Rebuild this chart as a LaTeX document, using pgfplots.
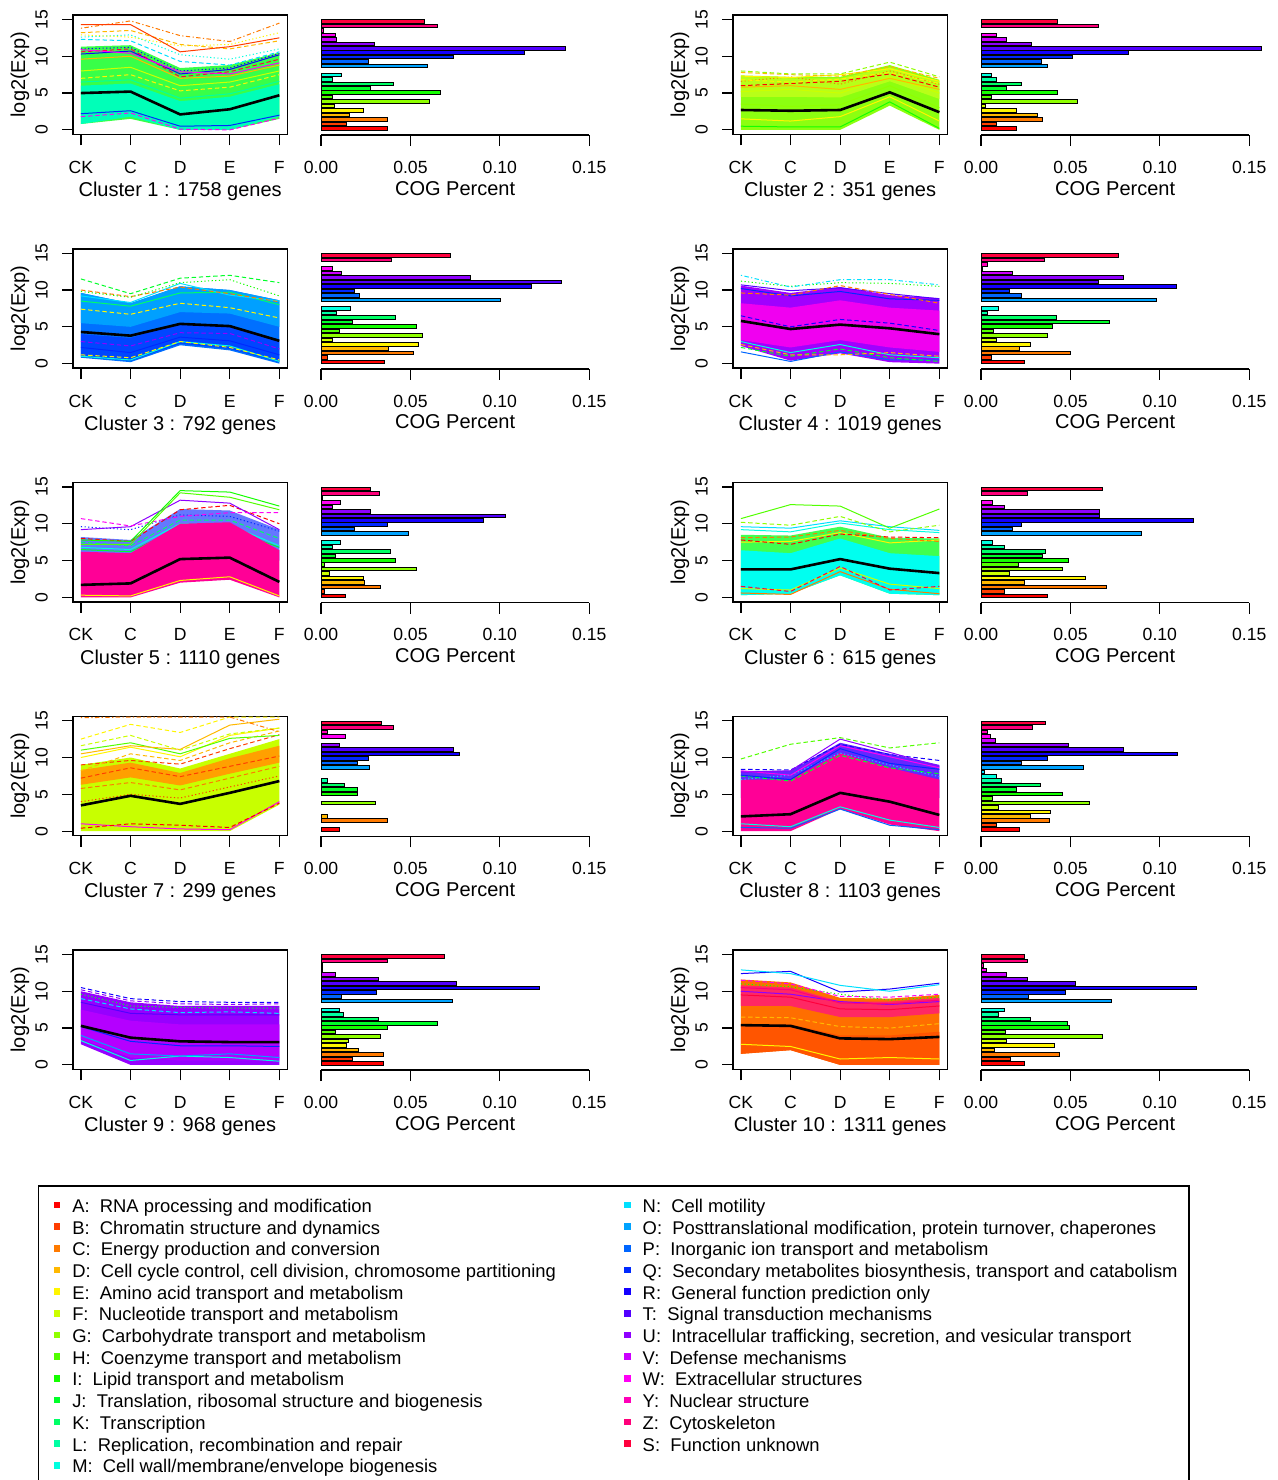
\documentclass[border=0pt]{standalone}
\usepackage{fontspec}
\setmainfont{Liberation Sans}
\usepackage{pgfplots}
\pgfplotsset{compat=1.18}
\usepackage{pgfplotstable}

\definecolor{cog0}{rgb}{1,0,0}
\definecolor{cog1}{rgb}{1,0.24,0}
\definecolor{cog2}{rgb}{1,0.48,0}
\definecolor{cog3}{rgb}{1,0.72,0}
\definecolor{cog4}{rgb}{1,0.96,0}
\definecolor{cog5}{rgb}{0.8,1,0}
\definecolor{cog6}{rgb}{0.56,1,0}
\definecolor{cog7}{rgb}{0.32,1,0}
\definecolor{cog8}{rgb}{0.08,1,0}
\definecolor{cog9}{rgb}{0,1,0.16}
\definecolor{cog10}{rgb}{0,1,0.4}
\definecolor{cog11}{rgb}{0,1,0.64}
\definecolor{cog12}{rgb}{0,1,0.88}
\definecolor{cog13}{rgb}{0,0.88,1}
\definecolor{cog14}{rgb}{0,0.64,1}
\definecolor{cog15}{rgb}{0,0.4,1}
\definecolor{cog16}{rgb}{0,0.16,1}
\definecolor{cog17}{rgb}{0.08,0,1}
\definecolor{cog18}{rgb}{0.32,0,1}
\definecolor{cog19}{rgb}{0.56,0,1}
\definecolor{cog20}{rgb}{0.8,0,1}
\definecolor{cog21}{rgb}{1,0,0.96}
\definecolor{cog22}{rgb}{1,0,0.72}
\definecolor{cog23}{rgb}{1,0,0.48}
\definecolor{cog24}{rgb}{1,0,0.24}

\definecolor{b1a}{HTML}{38FF48}
\definecolor{b1b}{HTML}{00FFB8}
\definecolor{b2a}{HTML}{8CFF10}
\definecolor{b2b}{HTML}{B8FF18}
\definecolor{b3a}{HTML}{0070FF}
\definecolor{b3b}{HTML}{00A0FF}
\definecolor{b3c}{HTML}{0046FF}
\definecolor{b4a}{HTML}{A000FF}
\definecolor{b4b}{HTML}{F000F0}
\definecolor{b5a}{HTML}{6478FF}
\definecolor{b5b}{HTML}{FF0096}
\definecolor{b6a}{HTML}{40FF50}
\definecolor{b6b}{HTML}{00FFF0}
\definecolor{b7a}{HTML}{C8FF00}
\definecolor{b7b}{HTML}{FFA000}
\definecolor{b8a}{HTML}{6428FF}
\definecolor{b8b}{HTML}{FF0096}
\definecolor{b9a}{HTML}{9600FF}
\definecolor{b9b}{HTML}{B400FF}
\definecolor{b10a}{HTML}{FF6E00}
\definecolor{b10b}{HTML}{FF5500}
\definecolor{b10c}{HTML}{FF2864}

% COG percent per cluster; k = 0 (A) ... 24 (S), order A..M N O P Q R T U V W Y Z S
\pgfplotstableread{
k c1 c2 c3 c4 c5 c6 c7 c8 c9 c10
0 0.0373 0.0199 0.0354 0.0244 0.0138 0.0373 0.0102 0.0218 0.0352 0.0242
1 0.0140 0.0084 0.0039 0.0058 0.0019 0.0129 0 0.0086 0.0175 0.0166
2 0.0373 0.0345 0.0518 0.0501 0.0333 0.0699 0.0371 0.0382 0.0352 0.0441
3 0.0158 0.0315 0.0380 0.0214 0.0244 0.0242 0.0035 0.0274 0.0209 0.0075
4 0.0235 0.0199 0.0544 0.0274 0.0235 0.0585 0 0.0389 0.0145 0.0413
5 0.0073 0.0026 0.0063 0.0088 0.0047 0.0162 0 0.0099 0.0156 0.0143
6 0.0607 0.0542 0.0570 0.0373 0.0535 0.0456 0.0304 0.0607 0.0332 0.0680
7 0.0063 0.0058 0.0102 0.0069 0.0019 0.0212 0 0.0063 0.0082 0.0138
8 0.0667 0.0427 0.0533 0.0402 0.0417 0.0488 0.0203 0.0455 0.0373 0.0495
9 0.0274 0.0143 0.0175 0.0717 0.0082 0.0343 0.0203 0.0197 0.0654 0.0486
10 0.0408 0.0227 0.0419 0.0423 0.0390 0.0360 0.0132 0.0335 0.0322 0.0274
11 0.0063 0.0084 0.0088 0.0035 0.0063 0.0129 0.0035 0.0117 0.0125 0.0099
12 0.0116 0.0058 0.0164 0.0099 0.0110 0.0063 0 0.0089 0.0104 0.0129
13 0 0 0 0 0 0 0 0.0017 0 0
14 0.0598 0.0371 0.1001 0.0982 0.0490 0.0896 0.0270 0.0574 0.0736 0.0730
15 0.0268 0.0341 0.0216 0.0225 0.0190 0.0177 0.0203 0.0227 0.0114 0.0268
16 0.0742 0.0512 0.0188 0.0158 0.0373 0.0227 0.0268 0.0373 0.0313 0.0473
17 0.1137 0.0827 0.1176 0.1092 0.0909 0.1189 0.0773 0.1100 0.1220 0.1205
18 0.1368 0.1569 0.1342 0.0658 0.1032 0.0665 0.0738 0.0797 0.0756 0.0529
19 0.0300 0.0285 0.0837 0.0797 0.0274 0.0665 0.0102 0.0490 0.0322 0.0259
20 0.0088 0.0143 0.0114 0.0177 0.0063 0.0129 0 0.0082 0.0082 0.0142
21 0.0080 0.0084 0.0063 0.0010 0.0110 0.0063 0.0136 0.0052 0.0010 0.0030
22 0.0013 0 0 0.0039 0.0010 0 0.0035 0.0034 0.0010 0.0013
23 0.0652 0.0656 0.0393 0.0354 0.0326 0.0259 0.0404 0.0289 0.0371 0.0259
24 0.0578 0.0427 0.0723 0.0768 0.0274 0.0682 0.0337 0.0363 0.0691 0.0242
}\cogtable

\newcommand\ticksize{\fontsize{8.8}{10}\selectfont}
\newcommand\labsize{\fontsize{10}{12}\selectfont}
\newcommand\legsize{\fontsize{9.2}{11}\selectfont}

\pgfplotsset{
  /pgf/number format/assume math mode=true,
  lw/.style={line width=0.5pt},
  dsh/.style={dash pattern=on 2.2pt off 1.4pt},
  dtt/.style={dash pattern=on 0.6pt off 1.2pt},
  ddt/.style={dash pattern=on 0.6pt off 1.2pt on 2.2pt off 1.2pt},
  band/.style={draw=none, fill=#1},
  mean/.style={black, line width=1.3pt},
  lp/.style={
    scale only axis, width=107.15pt, height=59.65pt, anchor=south west,
    xmin=-0.16, xmax=4.16, ymin=-0.6, ymax=15.6,
    xtick={0,1,2,3,4}, xticklabels={CK,C,D,E,F},
    ytick={0,5,10,15},
    tick align=outside, tick pos=left, major tick length=5.5pt,
    axis line style={line width=0.75pt},
    every tick/.style={black, line width=0.6pt},
    ticklabel style={font=\ticksize},
    xticklabel style={anchor=base, yshift=-14pt},
    yticklabel style={xshift=-7.2pt, rotate=90, anchor=base},
    ylabel={log2(Exp)},
    every axis x label/.style={at={(axis description cs:0.5,0)}, anchor=base, yshift=-31.2pt, font=\labsize},
    every axis y label/.style={at={(axis description cs:0,0.5)}, xshift=-26.5pt, rotate=90, anchor=center, font=\labsize},
  },
  bp/.style={
    scale only axis, width=134.15pt, height=60pt, anchor=south west,
    xmin=0, xmax=0.15, ymin=-1.51, ymax=25.5,
    axis x line*=bottom, axis y line=none, ytick=\empty,
    xtick={0,0.05,0.1,0.15}, xticklabels={0.00,0.05,0.10,0.15},
    tick align=outside, major tick length=5.5pt,
    axis line style={line width=0.75pt},
    every tick/.style={black, line width=0.6pt},
    ticklabel style={font=\ticksize},
    xticklabel style={anchor=base, yshift=-13.7pt},
    xlabel={COG Percent},
    every axis x label/.style={at={(axis description cs:0.5,0)}, anchor=base, yshift=-30pt, font=\labsize},
    clip=false,
  },
}

\newcommand\barpanel[3]{%
\begin{axis}[bp, at={(#1,#2)}]
\pgfplotsinvokeforeach{0,...,24}{%
\addplot[xbar, bar shift=0pt, bar width=0.8, fill=cog##1, draw=black, line width=0.5pt,
  y filter/.expression={y==##1 ? y : nan}, x filter/.expression={x==0 ? nan : x}]
  table[x=#3, y=k]{\cogtable};
}
\end{axis}}

\newcommand\lgl[1]{\makebox[275.5pt][l]{\rule[-3pt]{0pt}{12pt}#1}}
\newcommand\lgr[1]{\makebox[266pt][l]{\rule[-3pt]{0pt}{12pt}#1}}

\begin{document}
\begin{tikzpicture}
\useasboundingbox (0pt,0pt) rectangle (639pt,-740pt);

% ---------------- Cluster 1
\begin{axis}[lp, at={(36.5pt,-67.15pt)}, xlabel={Cluster 1 : 1758 genes}]
\addplot[band=b1a] coordinates {(0,0.8)(1,1.5)(2,0)(3,0)(4,1.5)(4,10.5)(3,8.8)(2,8.4)(1,11.5)(0,11.3)} -- cycle;
\addplot[band=b1b] coordinates {(0,0.8)(1,1.8)(2,0)(3,0)(4,1.8)(4,6.2)(3,4.5)(2,3.9)(1,6.3)(0,6.0)} -- cycle;
\addplot[lw,cog11] coordinates {(0,6.5)(1,6.8)(2,4.3)(3,4.9)(4,6.6)};
\addplot[lw,cog5] coordinates {(0,8)(1,8.5)(2,6)(3,6.5)(4,8)};
\addplot[lw,cog4,dsh] coordinates {(0,7)(1,7.5)(2,5.3)(3,5.8)(4,7.5)};
\addplot[lw,cog3] coordinates {(0,9.6)(1,10)(2,7)(3,7.3)(4,8.8)};
\addplot[lw,cog17] coordinates {(0,10.3)(1,10.7)(2,7.6)(3,8.2)(4,10.2)};
\addplot[lw,cog17,dtt] coordinates {(0,11)(1,11.2)(2,8)(3,8.4)(4,10.4)};
\addplot[lw,cog24,dsh] coordinates {(0,10.6)(1,11)(2,7.2)(3,7.9)(4,9.6)};
\addplot[lw,cog21] coordinates {(0,10.9)(1,10.4)(2,7.9)(3,7.6)(4,9.1)};
\addplot[lw,cog13,dsh] coordinates {(0,12.3)(1,12.1)(2,9.3)(3,8.8)(4,10.6)};
\addplot[lw,cog12,dtt] coordinates {(0,12.6)(1,12.9)(2,10.2)(3,9.6)(4,11)};
\addplot[lw,cog4,dtt] coordinates {(0,12.9)(1,12.6)(2,11.4)(3,11.6)(4,13.2)};
\addplot[lw,cog3,dsh] coordinates {(0,13.2)(1,13.5)(2,11.6)(3,11)(4,12.1)};
\addplot[lw,cog2,ddt] coordinates {(0,13.8)(1,14.8)(2,12.8)(3,12)(4,14.5)};
\addplot[lw,cog1] coordinates {(0,14.3)(1,14.3)(2,10.6)(3,11.3)(4,12.5)};
\addplot[lw,cog21,dsh] coordinates {(0,1.8)(1,2.3)(2,0.1)(3,0)(4,1.6)};
\addplot[lw,cog16] coordinates {(0,2.2)(1,2.6)(2,0.5)(3,0.6)(4,2)};
\addplot[mean] coordinates {(0,5.0)(1,5.2)(2,2.1)(3,2.8)(4,4.7)};
\end{axis}
\barpanel{160.5pt}{-67.5pt}{c1}

% ---------------- Cluster 2
\begin{axis}[lp, at={(366.5pt,-67.15pt)}, xlabel={Cluster 2 : 351 genes}]
\addplot[band=b2a] coordinates {(0,0)(1,0)(2,0)(3,3.3)(4,0)(4,6.8)(3,8.8)(2,7.2)(1,7.2)(0,7.4)} -- cycle;
\addplot[band=b2b] coordinates {(0,4.5)(1,4.5)(2,4.4)(3,6.6)(4,4.2)(4,6.6)(3,8.5)(2,7.0)(1,7.0)(0,7.2)} -- cycle;
\addplot[lw,cog6] coordinates {(0,3.5)(1,3.2)(2,3.4)(3,6)(4,3)};
\addplot[lw,cog8] coordinates {(0,0.5)(1,0.4)(2,0.4)(3,3.8)(4,0.2)};
\addplot[lw,cog4] coordinates {(0,1.5)(1,1.2)(2,1.8)(3,4.5)(4,1.2)};
\addplot[lw,cog5] coordinates {(0,5.2)(1,5.5)(2,5)(3,7.2)(4,5)};
\addplot[lw,cog3] coordinates {(0,5.8)(1,6)(2,5.5)(3,7)(4,5.5)};
\addplot[lw,cog0,dsh] coordinates {(0,6)(1,6.3)(2,6.6)(3,7.6)(4,5.8)};
\addplot[lw,cog2,dtt] coordinates {(0,6.6)(1,7.2)(2,6.2)(3,8)(4,6.2)};
\addplot[lw,cog4,dsh] coordinates {(0,6.8)(1,6.5)(2,6.9)(3,7.8)(4,6.3)};
\addplot[lw,cog4] coordinates {(0,7.3)(1,7.1)(2,7.5)(3,8.3)(4,6.6)};
\addplot[lw,cog3,dsh] coordinates {(0,7.8)(1,7.5)(2,7.3)(3,8.6)(4,7)};
\addplot[lw,cog6,dsh] coordinates {(0,8)(1,7.6)(2,7.6)(3,9.2)(4,7.2)};
\addplot[mean] coordinates {(0,2.7)(1,2.6)(2,2.7)(3,5.1)(4,2.4)};
\end{axis}
\barpanel{490.5pt}{-67.5pt}{c2}

% ---------------- Cluster 3
\begin{axis}[lp, at={(36.5pt,-184.025pt)}, xlabel={Cluster 3 : 792 genes}]
\addplot[band=b3a] coordinates {(0,0.8)(1,0.2)(2,2.5)(3,1.8)(4,0)(4,8.6)(3,10)(2,10.5)(1,8.2)(0,9.6)} -- cycle;
\addplot[band=b3b] coordinates {(0,5.5)(1,5)(2,7)(3,6.8)(4,5)(4,8.6)(3,10)(2,10.5)(1,8.2)(0,9.6)} -- cycle;
\addplot[band=b3c] coordinates {(0,1)(1,0.4)(2,2.7)(3,2)(4,0.2)(4,3)(3,5)(2,5.5)(1,3.5)(0,4)} -- cycle;
\addplot[lw,cog16] coordinates {(0,2.2)(1,1.5)(2,3.6)(3,3.1)(4,1.2)};
\addplot[lw,cog19,dsh] coordinates {(0,3)(1,2.4)(2,4.2)(3,4.1)(4,2)};
\addplot[lw,cog12] coordinates {(0,1)(1,0.5)(2,3)(3,2.4)(4,0.3)};
\addplot[lw,cog4,dsh] coordinates {(0,1.2)(1,0.8)(2,3)(3,2.2)(4,0.5)};
\addplot[lw,cog4,dsh] coordinates {(0,7.4)(1,6.7)(2,8.2)(3,7.6)(4,6.2)};
\addplot[lw,cog10] coordinates {(0,8.5)(1,7.8)(2,9.6)(3,9.7)(4,8)};
\addplot[lw,cog13] coordinates {(0,9.2)(1,8.3)(2,10.9)(3,9.3)(4,8.5)};
\addplot[lw,cog2,dsh] coordinates {(0,10)(1,9.1)(2,10.4)(3,9.5)(4,8.4)};
\addplot[lw,cog8,dtt] coordinates {(0,9.8)(1,9)(2,11)(3,11.4)(4,9.2)};
\addplot[lw,cog9,dsh] coordinates {(0,11.5)(1,9.5)(2,11.6)(3,12)(4,11)};
\addplot[mean] coordinates {(0,4.3)(1,3.8)(2,5.4)(3,5.1)(4,3.1)};
\end{axis}
\barpanel{160.5pt}{-184.375pt}{c3}

% ---------------- Cluster 4
\begin{axis}[lp, at={(366.5pt,-184.025pt)}, xlabel={Cluster 4 : 1019 genes}]
\addplot[band=b4a] coordinates {(0,2.4)(1,0.4)(2,1.4)(3,0.2)(4,0)(4,8.9)(3,9.3)(2,10.4)(1,9.6)(0,10.6)} -- cycle;
\addplot[band=b4b] coordinates {(0,3.2)(1,2.2)(2,3.2)(3,2.2)(4,1.6)(4,7.2)(3,7.6)(2,8.6)(1,7.6)(0,8.2)} -- cycle;
\addplot[lw,cog17,dsh] coordinates {(0,6.5)(1,5)(2,6)(3,5.5)(4,4.5)};
\addplot[lw,cog15] coordinates {(0,1.6)(1,0.3)(2,1.6)(3,0.5)(4,0.5)};
\addplot[lw,cog9,dsh] coordinates {(0,2.2)(1,1)(2,2)(3,0.8)(4,0.3)};
\addplot[lw,cog12] coordinates {(0,3)(1,1.5)(2,2.6)(3,1.2)(4,0.8)};
\addplot[lw,cog3,dsh] coordinates {(0,2.6)(1,1.2)(2,1.2)(3,1.5)(4,1)};
\addplot[lw,cog16] coordinates {(0,10.2)(1,9.2)(2,9.8)(3,8.8)(4,8.6)};
\addplot[lw,cog18] coordinates {(0,10.7)(1,9.9)(2,10.3)(3,9.5)(4,8.8)};
\addplot[lw,cog2,dsh] coordinates {(0,9.6)(1,9.3)(2,10.6)(3,9.4)(4,8.2)};
\addplot[lw,cog8,dtt] coordinates {(0,11.2)(1,10.5)(2,11)(3,10.9)(4,10.5)};
\addplot[lw,cog13,ddt] coordinates {(0,12)(1,10.4)(2,11.4)(3,11.4)(4,10.7)};
\addplot[mean] coordinates {(0,5.8)(1,4.7)(2,5.3)(3,4.8)(4,4.0)};
\end{axis}
\barpanel{490.5pt}{-184.375pt}{c4}

% ---------------- Cluster 5
\begin{axis}[lp, at={(36.5pt,-300.9pt)}, xlabel={Cluster 5 : 1110 genes}]
\addplot[band=b5a] coordinates {(0,5)(1,5)(2,8.5)(3,8.5)(4,5)(4,9.2)(3,11.8)(2,12)(1,7.8)(0,8.2)} -- cycle;
\addplot[lw,cog9] coordinates {(0,6.5)(1,6.2)(2,9.5)(3,9.2)(4,6.8)};
\addplot[lw,cog12] coordinates {(0,6.8)(1,6.5)(2,10)(3,9.8)(4,7)};
\addplot[lw,cog10,dsh] coordinates {(0,7.5)(1,7)(2,10.5)(3,10.5)(4,8)};
\addplot[band=b5b] coordinates {(0,0)(1,0)(2,2)(3,2.4)(4,0)(4,6.4)(3,10.2)(2,10)(1,6)(0,6.2)} -- cycle;
\addplot[lw,cog4] coordinates {(0,0.3)(1,0.2)(2,2.3)(3,2.8)(4,0.2)};
\addplot[lw,cog0,dsh] coordinates {(0,8)(1,7.6)(2,11.9)(3,12.5)(4,10)};
\addplot[lw,cog16,dtt] coordinates {(0,9.6)(1,9.2)(2,11.2)(3,11)(4,9)};
\addplot[lw,cog19] coordinates {(0,9.2)(1,9.6)(2,13.2)(3,12.8)(4,9.2)};
\addplot[lw,cog21,dsh] coordinates {(0,10.7)(1,9.7)(2,11)(3,11.5)(4,11.5)};
\addplot[lw,cog7] coordinates {(0,7.2)(1,7.2)(2,14.2)(3,13.6)(4,11.9)};
\addplot[lw,cog8] coordinates {(0,7.8)(1,7.6)(2,14.5)(3,14.3)(4,12.4)};
\addplot[mean] coordinates {(0,1.7)(1,1.9)(2,5.2)(3,5.4)(4,2.1)};
\end{axis}
\barpanel{160.5pt}{-301.25pt}{c5}

% ---------------- Cluster 6
\begin{axis}[lp, at={(366.5pt,-300.9pt)}, xlabel={Cluster 6 : 615 genes}]
\addplot[band=b6a] coordinates {(0,0.3)(1,0.5)(2,3)(3,0.5)(4,0.3)(4,8)(3,8.1)(2,9.6)(1,8.4)(0,8.5)} -- cycle;
\addplot[band=b6b] coordinates {(0,0.3)(1,0.5)(2,3)(3,0.5)(4,0.3)(4,5.6)(3,6)(2,8)(1,6)(0,6.4)} -- cycle;
\addplot[lw,cog2] coordinates {(0,0.6)(1,0.4)(2,3.5)(3,1.1)(4,0.5)};
\addplot[lw,cog5] coordinates {(0,1.2)(1,1)(2,4)(3,1.8)(4,1.2)};
\addplot[lw,cog24,dsh] coordinates {(0,1.5)(1,0.8)(2,4.2)(3,1)(4,1.5)};
\addplot[lw,cog4] coordinates {(0,7.5)(1,7.6)(2,8.8)(3,7.4)(4,7.8)};
\addplot[lw,cog0,dsh] coordinates {(0,7.8)(1,7.2)(2,8.6)(3,8.2)(4,8.1)};
\addplot[lw,cog2,dsh] coordinates {(0,8.1)(1,8.2)(2,9.1)(3,8)(4,7.6)};
\addplot[lw,cog12] coordinates {(0,9.2)(1,8.9)(2,10.1)(3,9.2)(4,8.8)};
\addplot[lw,cog13] coordinates {(0,9.6)(1,9.4)(2,10.4)(3,9.6)(4,9.1)};
\addplot[lw,cog6,dsh] coordinates {(0,10.2)(1,9.8)(2,11)(3,8.9)(4,9.8)};
\addplot[lw,cog7] coordinates {(0,10.7)(1,12.6)(2,12.4)(3,9.4)(4,12)};
\addplot[mean] coordinates {(0,3.8)(1,3.8)(2,5.2)(3,3.9)(4,3.3)};
\end{axis}
\barpanel{490.5pt}{-301.25pt}{c6}

% ---------------- Cluster 7
\begin{axis}[lp, at={(36.5pt,-417.775pt)}, xlabel={Cluster 7 : 299 genes}]
\addplot[band=b7a] coordinates {(0,0)(1,0)(2,0)(3,0)(4,3.6)(4,12.5)(3,10.5)(2,8.5)(1,10)(0,9)} -- cycle;
\addplot[band=b7b] coordinates {(0,6.3)(1,7.3)(2,6.2)(3,7.8)(4,9.3)(4,11.6)(3,9.9)(2,7.9)(1,9.3)(0,8.3)} -- cycle;
\addplot[lw,cog2,dsh] coordinates {(0,5.8)(1,6.6)(2,5.6)(3,7.2)(4,8.8)};
\addplot[lw,cog1,dsh] coordinates {(0,7.2)(1,8.6)(2,7.4)(3,8.8)(4,10.2)};
\addplot[lw,cog21] coordinates {(0,1)(1,0.6)(2,0.3)(3,0.2)(4,4)};
\addplot[lw,cog0,dsh] coordinates {(0,0.4)(1,1)(2,0.8)(3,0.5)(4,3.8)};
\addplot[lw,cog1,dtt] coordinates {(0,4)(1,5)(2,4.5)(3,6)(4,7.5)};
\addplot[lw,cog1,dsh] coordinates {(0,9)(1,9.6)(2,9.1)(3,11.2)(4,13.1)};
\addplot[lw,cog3,dsh] coordinates {(0,8.2)(1,10.5)(2,9.6)(3,12)(4,13.6)};
\addplot[lw,cog4] coordinates {(0,10)(1,11.4)(2,10.1)(3,13)(4,14)};
\addplot[lw,cog7] coordinates {(0,11)(1,12)(2,10.5)(3,12.6)(4,13)};
\addplot[lw,cog3] coordinates {(0,10.5)(1,11.6)(2,11.1)(3,14.4)(4,15.2)};
\addplot[lw,cog5,dsh] coordinates {(0,11.6)(1,13)(2,11)(3,13.2)(4,14)};
\addplot[lw,cog4,dsh] coordinates {(0,12.5)(1,14.5)(2,13.4)(3,15.5)(4,15.5)};
\addplot[lw,cog2,ddt] coordinates {(0,15.4)(1,15.5)(2,15.5)(3,15.5)(4,13.5)};
\addplot[mean] coordinates {(0,3.5)(1,4.8)(2,3.7)(3,5.2)(4,6.8)};
\end{axis}
\barpanel{160.5pt}{-418.125pt}{c7}

% ---------------- Cluster 8
\begin{axis}[lp, at={(366.5pt,-417.775pt)}, xlabel={Cluster 8 : 1103 genes}]
\addplot[band=b8a] coordinates {(0,4.5)(1,5)(2,8)(3,6)(4,4.5)(4,9)(3,10.5)(2,12)(1,8.2)(0,8.2)} -- cycle;
\addplot[band=b8b] coordinates {(0,0)(1,0)(2,3)(3,0.9)(4,0)(4,7)(3,8.6)(2,10.6)(1,7)(0,7)} -- cycle;
\addplot[lw,cog15] coordinates {(0,0.5)(1,0.4)(2,3)(3,0.8)(4,0.2)};
\addplot[lw,cog12] coordinates {(0,1)(1,0.6)(2,3.3)(3,1.5)(4,0.5)};
\addplot[lw,cog9,dsh] coordinates {(0,7.5)(1,6.8)(2,10.3)(3,8.6)(4,7.8)};
\addplot[lw,cog13,dtt] coordinates {(0,7)(1,7.6)(2,10.6)(3,9)(4,7.4)};
\addplot[lw,cog16] coordinates {(0,7.6)(1,7)(2,11.2)(3,9.2)(4,8.4)};
\addplot[lw,cog21] coordinates {(0,8.2)(1,7.6)(2,11.6)(3,10.1)(4,8.6)};
\addplot[lw,cog17,dsh] coordinates {(0,8.4)(1,8.3)(2,11.8)(3,10.4)(4,9.6)};
\addplot[lw,cog19] coordinates {(0,8)(1,8.2)(2,12.5)(3,10.7)(4,8.8)};
\addplot[lw,cog7,dsh] coordinates {(0,9.8)(1,11.8)(2,12.7)(3,11.3)(4,12)};
\addplot[mean] coordinates {(0,2.0)(1,2.3)(2,5.2)(3,4.0)(4,2.2)};
\end{axis}
\barpanel{490.5pt}{-418.125pt}{c8}

% ---------------- Cluster 9
\begin{axis}[lp, at={(36.5pt,-534.65pt)}, xlabel={Cluster 9 : 968 genes}]
\addplot[band=b9a] coordinates {(0,2.8)(1,0)(2,0)(3,0)(4,0)(4,8)(3,8)(2,8)(1,8.5)(0,10)} -- cycle;
\addplot[band=b9b] coordinates {(0,3.5)(1,1)(2,0.6)(3,0.6)(4,0.6)(4,5.5)(3,5.5)(2,5.5)(1,6)(0,7.5)} -- cycle;
\addplot[lw,cog12] coordinates {(0,3.3)(1,0.6)(2,1.2)(3,1)(4,0.5)};
\addplot[lw,cog14] coordinates {(0,4)(1,1.5)(2,1.2)(3,1.5)(4,1)};
\addplot[lw,cog16] coordinates {(0,5.2)(1,3.2)(2,2.6)(3,2.6)(4,2.5)};
\addplot[lw,cog18] coordinates {(0,8.5)(1,7)(2,6.8)(3,6.8)(4,6.8)};
\addplot[lw,cog13,dsh] coordinates {(0,9)(1,7.6)(2,7.1)(3,7.2)(4,7)};
\addplot[lw,cog9,dtt] coordinates {(0,9.6)(1,8)(2,7.8)(3,7.7)(4,7.7)};
\addplot[lw,cog19,dsh] coordinates {(0,10.2)(1,8.7)(2,8.3)(3,8.2)(4,8.3)};
\addplot[lw,cog17,dsh] coordinates {(0,10.5)(1,9)(2,8.6)(3,8.5)(4,8.5)};
\addplot[mean] coordinates {(0,5.3)(1,3.7)(2,3.2)(3,3.1)(4,3.1)};
\end{axis}
\barpanel{160.5pt}{-535pt}{c9}

% ---------------- Cluster 10
\begin{axis}[lp, at={(366.5pt,-534.65pt)}, xlabel={Cluster 10 : 1311 genes}]
\addplot[band=b10a] coordinates {(0,1.5)(1,2)(2,0)(3,0)(4,0)(4,9.5)(3,9)(2,9.1)(1,11.2)(0,11.6)} -- cycle;
\addplot[band=b10b] coordinates {(0,1.5)(1,2)(2,0)(3,0)(4,0)(4,4.5)(3,4)(2,4)(1,5.5)(0,5.5)} -- cycle;
\addplot[band=b10c] coordinates {(0,8)(1,8)(2,6.5)(3,6.5)(4,7)(4,9.1)(3,8.6)(2,8.6)(1,10.5)(0,10.8)} -- cycle;
\addplot[lw,cog3,dsh] coordinates {(0,6.5)(1,6.4)(2,5.2)(3,5)(4,5.6)};
\addplot[lw,cog4] coordinates {(0,2.8)(1,2.5)(2,0.8)(3,1)(4,0.8)};
\addplot[lw,cog24] coordinates {(0,9.5)(1,9.2)(2,7.6)(3,7.5)(4,8)};
\addplot[lw,cog19] coordinates {(0,10)(1,9.6)(2,8.6)(3,8.2)(4,8.6)};
\addplot[lw,cog23] coordinates {(0,10.5)(1,10.2)(2,8.4)(3,8.3)(4,8.8)};
\addplot[lw,cog8,dtt] coordinates {(0,11)(1,10.6)(2,9.6)(3,8.8)(4,9.2)};
\addplot[lw,cog21,dsh] coordinates {(0,11.5)(1,11)(2,9.3)(3,9.2)(4,9.6)};
\addplot[lw,cog17] coordinates {(0,12.4)(1,12.7)(2,9.9)(3,10.3)(4,11.1)};
\addplot[lw,cog13] coordinates {(0,12.9)(1,12.4)(2,10.8)(3,10)(4,10.9)};
\addplot[mean] coordinates {(0,5.4)(1,5.3)(2,3.6)(3,3.5)(4,3.8)};
\end{axis}
\barpanel{490.5pt}{-535pt}{c10}

% ---------------- Legend
\begin{axis}[hide axis, scale only axis, width=10pt, height=10pt,
  xmin=0, xmax=1, ymin=0, ymax=1,
  at={(19pt,-592.5pt)}, anchor=north west,
  legend columns=2, legend cell align=left,
  legend style={at={(0,1)}, anchor=north west, draw=black, line width=0.75pt,
    inner xsep=7pt, inner ysep=4.3pt, font=\legsize, row sep=0.35pt, column sep=0pt,
    nodes={inner sep=0pt}},
  legend image code/.code={\path (0pt,0pt) (9pt,0pt); \fill[#1, draw=none] (0pt,-1.65pt) rectangle (3.3pt,1.65pt);}]
\addlegendimage{fill=cog0}\addlegendentry{\lgl{A:\ \ RNA processing and modification}}
\addlegendimage{fill=cog13}\addlegendentry{\lgr{N:\ \ Cell motility}}
\addlegendimage{fill=cog1}\addlegendentry{\lgl{B:\ \ Chromatin structure and dynamics}}
\addlegendimage{fill=cog14}\addlegendentry{\lgr{O:\ \ Posttranslational modification, protein turnover, chaperones}}
\addlegendimage{fill=cog2}\addlegendentry{\lgl{C:\ \ Energy production and conversion}}
\addlegendimage{fill=cog15}\addlegendentry{\lgr{P:\ \ Inorganic ion transport and metabolism}}
\addlegendimage{fill=cog3}\addlegendentry{\lgl{D:\ \ Cell cycle control, cell division, chromosome partitioning}}
\addlegendimage{fill=cog16}\addlegendentry{\lgr{Q:\ \ Secondary metabolites biosynthesis, transport and catabolism}}
\addlegendimage{fill=cog4}\addlegendentry{\lgl{E:\ \ Amino acid transport and metabolism}}
\addlegendimage{fill=cog17}\addlegendentry{\lgr{R:\ \ General function prediction only}}
\addlegendimage{fill=cog5}\addlegendentry{\lgl{F:\ \ Nucleotide transport and metabolism}}
\addlegendimage{fill=cog18}\addlegendentry{\lgr{T:\ \ Signal transduction mechanisms}}
\addlegendimage{fill=cog6}\addlegendentry{\lgl{G:\ \ Carbohydrate transport and metabolism}}
\addlegendimage{fill=cog19}\addlegendentry{\lgr{U:\ \ Intracellular trafficking, secretion, and vesicular transport}}
\addlegendimage{fill=cog7}\addlegendentry{\lgl{H:\ \ Coenzyme transport and metabolism}}
\addlegendimage{fill=cog20}\addlegendentry{\lgr{V:\ \ Defense mechanisms}}
\addlegendimage{fill=cog8}\addlegendentry{\lgl{I:\ \ Lipid transport and metabolism}}
\addlegendimage{fill=cog21}\addlegendentry{\lgr{W:\ \ Extracellular structures}}
\addlegendimage{fill=cog9}\addlegendentry{\lgl{J:\ \ Translation, ribosomal structure and biogenesis}}
\addlegendimage{fill=cog22}\addlegendentry{\lgr{Y:\ \ Nuclear structure}}
\addlegendimage{fill=cog10}\addlegendentry{\lgl{K:\ \ Transcription}}
\addlegendimage{fill=cog23}\addlegendentry{\lgr{Z:\ \ Cytoskeleton}}
\addlegendimage{fill=cog11}\addlegendentry{\lgl{L:\ \ Replication, recombination and repair}}
\addlegendimage{fill=cog24}\addlegendentry{\lgr{S:\ \ Function unknown}}
\addlegendimage{fill=cog12}\addlegendentry{\lgl{M:\ \ Cell wall/membrane/envelope biogenesis}}
\end{axis}
\end{tikzpicture}
\end{document}
